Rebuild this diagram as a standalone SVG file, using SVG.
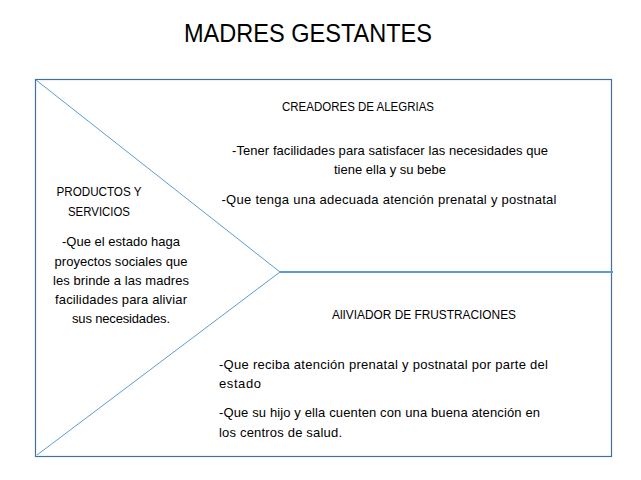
<svg xmlns="http://www.w3.org/2000/svg" width="641" height="480" viewBox="0 0 641 480">
<style>
text{font-family:"Liberation Sans","DejaVu Sans",sans-serif;font-size:13px;fill:#000}
.c{text-anchor:middle}
.u{font-size:12.5px}
.t{font-size:25px}
.diag{stroke:#5B9BD5;stroke-width:1;fill:none}
.axis{stroke:#5B9BD5;stroke-width:2.2;fill:none}
</style>
<rect width="641" height="480" fill="#fff"/>
<text class="t c" x="308" y="42" textLength="248" lengthAdjust="spacingAndGlyphs">MADRES GESTANTES</text>
<g id="frame"><rect x="35.5" y="79.5" width="576" height="377" fill="none" stroke="#41719C" stroke-width="1.2"/></g>
<g id="connectors">
<line class="diag" x1="36" y1="80" x2="280" y2="272"/>
<line class="diag" x1="280" y1="272" x2="37" y2="455"/>
<line class="axis" x1="280" y1="272" x2="613" y2="272"/>
</g>
<g id="productos">
<text class="c u" x="99" y="196" textLength="85" lengthAdjust="spacingAndGlyphs">PRODUCTOS Y</text>
<text class="c u" x="99" y="216" textLength="62" lengthAdjust="spacingAndGlyphs">SERVICIOS</text>
<text class="c" x="121" y="246" textLength="118">-Que el estado haga</text>
<text class="c" x="121" y="266" textLength="133">proyectos sociales que</text>
<text class="c" x="121" y="285" textLength="136">les brinde a las madres</text>
<text class="c" x="121" y="304" textLength="132">facilidades para aliviar</text>
<text class="c" x="121" y="323" textLength="98">sus necesidades.</text>
</g>
<g id="creadores">
<text class="c u" x="358" y="111" textLength="152" lengthAdjust="spacingAndGlyphs">CREADORES DE ALEGRIAS</text>
<text class="c" x="390" y="155" textLength="316">-Tener facilidades para satisfacer las necesidades que</text>
<text class="c" x="390" y="174" textLength="112">tiene ella y su bebe</text>
<text class="c" x="389" y="204" textLength="335">-Que tenga una adecuada  atención prenatal y postnatal</text>
</g>
<g id="aliviador">
<text class="c u" x="424" y="319" textLength="184" lengthAdjust="spacingAndGlyphs">AlIVIADOR DE FRUSTRACIONES</text>
<text x="219" y="369" textLength="329">-Que reciba atención prenatal y postnatal por parte del</text>
<text x="219" y="388" textLength="42">estado</text>
<text x="219" y="417" textLength="321">-Que su hijo y ella cuenten con una buena atención en</text>
<text x="219" y="437" textLength="123">los centros de salud.</text>
</g>
</svg>
